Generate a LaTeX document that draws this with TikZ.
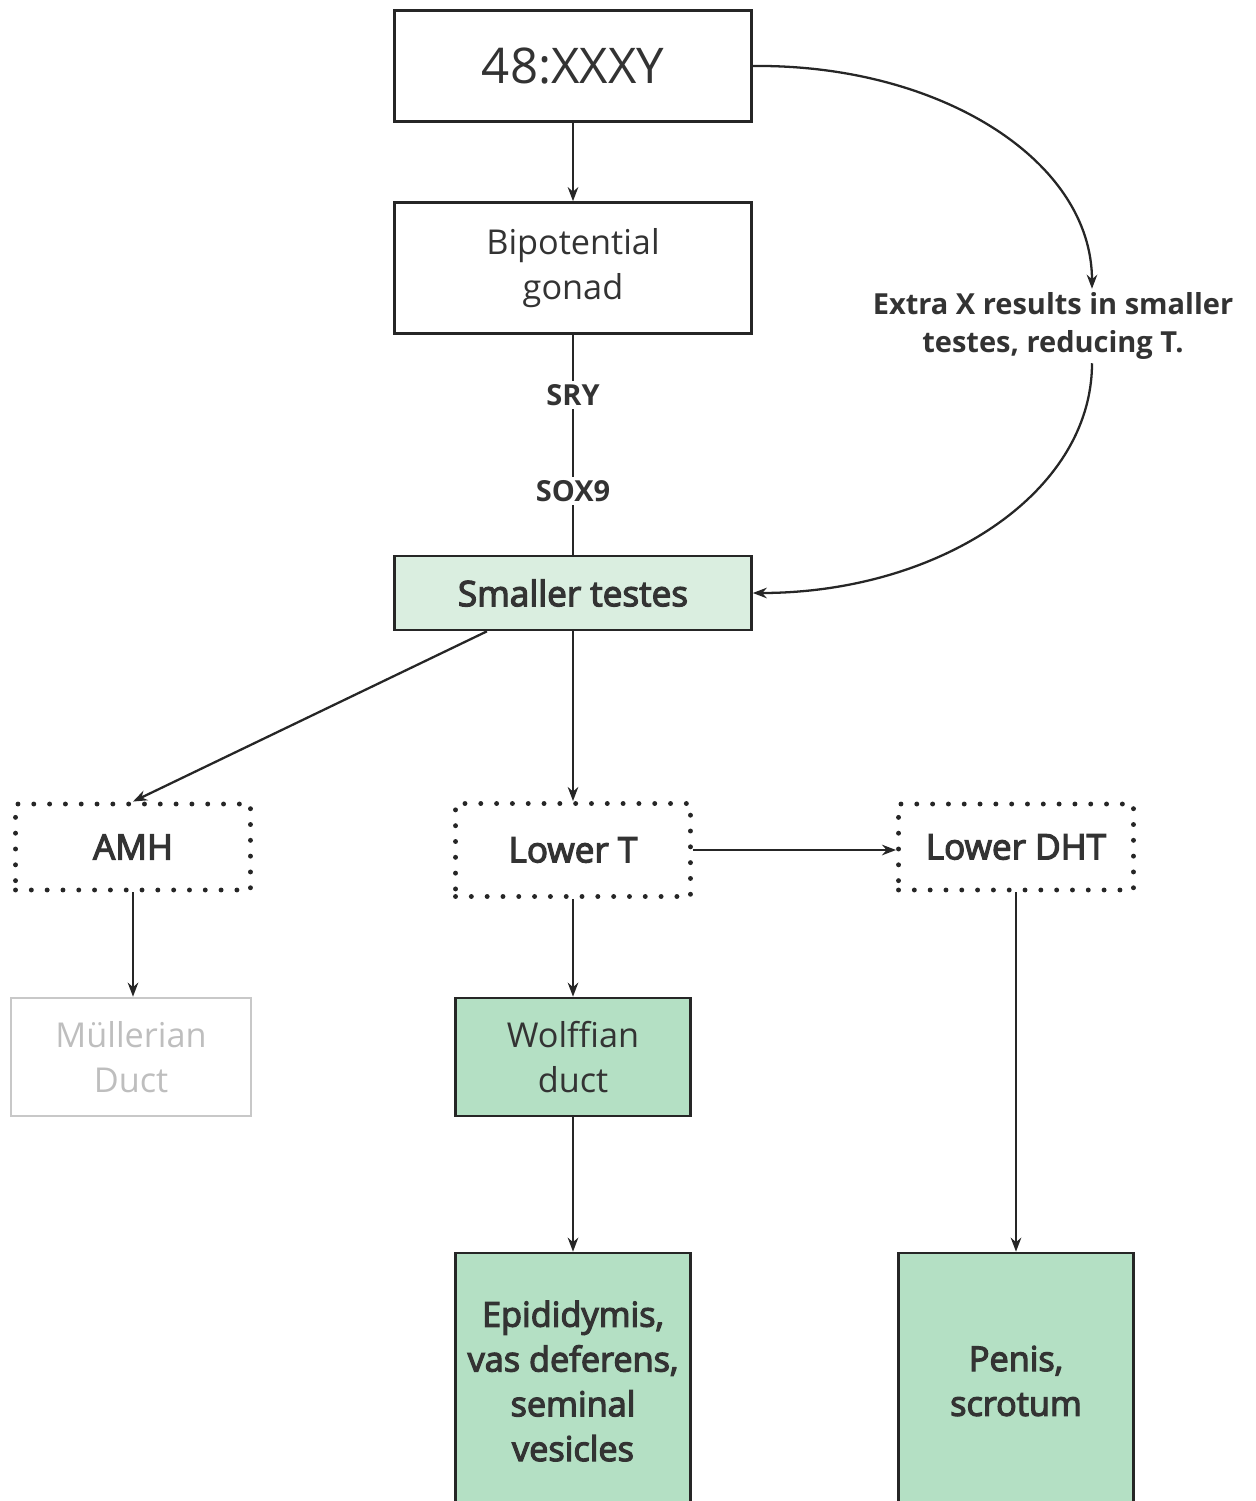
\documentclass[tikz,border=0pt]{standalone}
\usepackage{fontspec}
\setmainfont{Open Sans}
\newfontfamily\semibold{Open Sans}[FakeBold=3.5]
\usetikzlibrary{arrows.meta}
\definecolor{textgray}{RGB}{51, 51, 51}
\definecolor{linegray}{RGB}{38, 38, 38}
\definecolor{palegreen}{RGB}{218, 238, 224}
\definecolor{ductgreen}{RGB}{180, 224, 196}
\definecolor{fadedgray}{RGB}{200, 200, 200}
\definecolor{fadedtext}{RGB}{190, 190, 190}

\begin{document}
\begin{tikzpicture}[
        x=0.02cm, y=-0.02cm,
        stage/.style={rectangle, draw=linegray, line width=1.5pt, inner sep=0pt, minimum width=7.14cm, text=textgray, align=center},
        gene/.style={stage, fill=palegreen},
        hormone/.style={rectangle, draw=linegray, line width=2.8pt, dash pattern=on 0pt off 9pt, line cap=round, inner sep=0pt, minimum width=4.7cm, text=textgray, font={\semibold\fontsize{20}{26}\selectfont}},
        organ/.style={stage, fill=ductgreen, minimum width=4.7cm},
        faded/.style={rectangle, draw=fadedgray, line width=1.5pt, inner sep=0pt, minimum width=4.8cm, text=fadedtext, align=center},
        flow/.style={-{Stealth[length=8pt, width=6pt]}, line width=1.3pt, draw=linegray},
        link/.style={line width=1.3pt, draw=linegray},
        lbl/.style={font={\bfseries\fontsize{16.5}{21.5}\selectfont}, text=textgray, fill=white, inner sep=2pt, align=center}
    ]
    \useasboundingbox (0, 0) rectangle (1256, 1501);

    % Main column
    \node[stage, minimum height=2.22cm, font={\fontsize{28}{34}\selectfont}] (karyo) at (573, 66) {48:XXXY};
    \node[stage, minimum height=2.62cm, font={\fontsize{19.5}{25.5}\selectfont}] (gonad) at (573, 268) {Bipotential\\ gonad};
    \node[gene, minimum height=1.48cm, font={\semibold\fontsize{20}{26}\selectfont}] (testes) at (573, 593) {Smaller testes};

    % Hormones
    \node[hormone, minimum height=1.72cm] (amh) at (133, 847) {AMH};
    \node[hormone, minimum height=1.86cm] (lowt) at (573, 850) {Lower T};
    \node[hormone, minimum height=1.72cm] (lowdht) at (1016, 847) {Lower DHT};

    % Ducts and organs
    \node[faded, minimum height=2.36cm, font={\fontsize{19.5}{25.5}\selectfont}] (mull) at (131, 1057) {Müllerian\\ Duct};
    \node[organ, minimum height=2.36cm, font={\fontsize{19.5}{25.5}\selectfont}] (wolff) at (573, 1057) {Wolffian\\ duct};
    \node[organ, minimum height=5.12cm, font={\semibold\fontsize{19.5}{25.5}\selectfont}] (epid) at (573, 1381) {Epididymis,\\ vas deferens,\\ seminal\\ vesicles};
    \node[organ, minimum height=5.12cm, font={\semibold\fontsize{19.5}{25.5}\selectfont}] (penis) at (1016, 1381) {Penis,\\ scrotum};

    % Side note
    \node[lbl] (extra) at (1053, 326) {Extra X results in smaller\\ testes, reducing T.};

    % Connections
    \draw[flow] (karyo) -- (gonad);
    \draw[link] (gonad) -- node[lbl, pos=0.275] {SRY} node[lbl, pos=0.71] {SOX9} (testes);
    \draw[flow] (karyo.east) .. controls (939, 64) and (1092, 160) .. ([xshift=0.78cm]extra.north);
    \draw[flow] ([xshift=0.78cm]extra.south) .. controls (1092, 493) and (939, 593) .. (testes.east);
    \draw[flow] (testes.204) -- (amh.north);
    \draw[flow] (testes) -- (lowt);
    \draw[flow] (lowt.east) -- (lowt.east -| lowdht.west);
    \draw[flow] (amh) -- (amh |- mull.north);
    \draw[flow] (lowt) -- (wolff);
    \draw[flow] (wolff) -- (epid);
    \draw[flow] (lowdht) -- (penis);

\end{tikzpicture}
\end{document}
